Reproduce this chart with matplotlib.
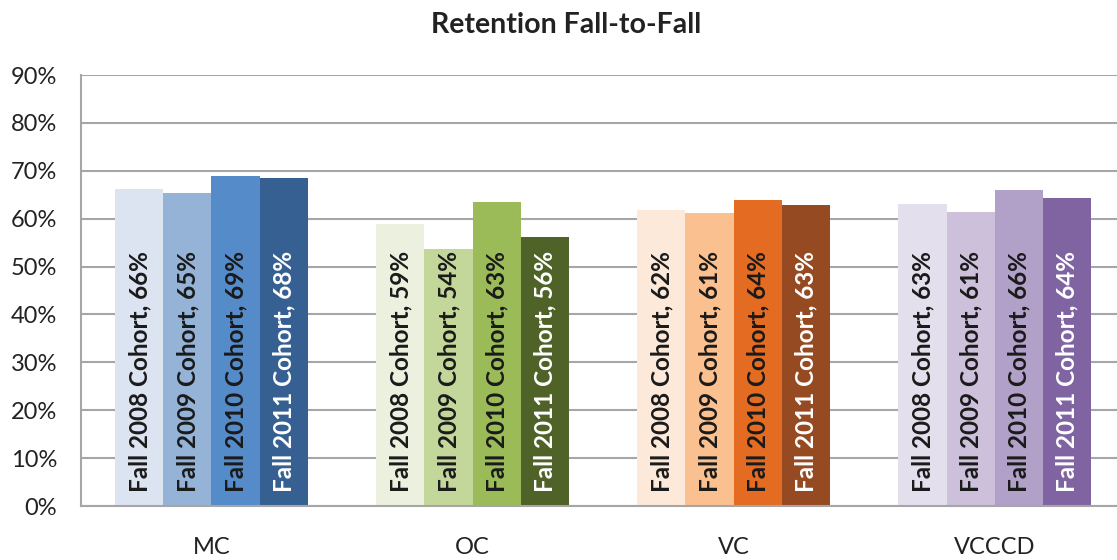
import numpy as np
import matplotlib.pyplot as plt

# Data
colleges = ["MC", "OC", "VC", "VCCCD"]
cohorts = ["Fall 2008 Cohort", "Fall 2009 Cohort", "Fall 2010 Cohort", "Fall 2011 Cohort"]
mc = [66.2, 65.3, 68.9, 68.5]
oc = [58.9, 53.7, 63.4, 56.2]
vc = [61.8, 61.2, 63.9, 62.8]
vcccd = [63.0, 61.4, 66.0, 64.3]
values = [mc, oc, vc, vcccd]
# labels as printed on the chart
labels = [[66, 65, 69, 68], [59, 54, 63, 56], [62, 61, 64, 63], [63, 61, 66, 64]]

palettes = [
    ["#DCE3F1", "#95B3D7", "#558BC9", "#366092"],
    ["#EBF1DE", "#C4D79B", "#9BBB59", "#4F6228"],
    ["#FDE9D9", "#FAC090", "#E46C22", "#964A22"],
    ["#E4DFEC", "#CCC0DA", "#B1A0C7", "#8064A2"],
]

plt.rcParams['font.family'] = ['Lato', 'DejaVu Sans']

fig = plt.figure(figsize=(11.17, 5.6), dpi=100)
ax = fig.add_axes([0.0725, 0.0964, 0.9347, 0.7696])

bar_w = 0.184
x = np.arange(len(colleges))
for i, (vals, cols) in enumerate(zip(values, palettes)):
    for j, v in enumerate(vals):
        xpos = x[i] + (j - 1.5) * bar_w
        ax.bar(xpos, v, width=bar_w, color=cols[j], zorder=2)
        txt_color = "white" if j == 3 else "#1a1a1a"
        ax.annotate(f"{cohorts[j]}, {labels[i][j]}%", (xpos, 0), xytext=(0, 10),
                    textcoords="offset points", rotation=90, ha="center", va="bottom",
                    fontsize=17.5, fontweight="bold", color=txt_color, zorder=3)

ax.set_xlim(-0.5, len(colleges) - 0.5)
ax.set_ylim(0, 90)
ax.set_yticks(np.arange(0, 91, 10))
ax.set_yticklabels([f"{t}%" for t in range(0, 91, 10)])
ax.set_xticks(x)
ax.set_xticklabels(colleges)
ax.tick_params(axis="both", length=0, labelsize=17, colors="#222222")
ax.tick_params(axis="x", pad=22)
ax.tick_params(axis="y", pad=17)
ax.yaxis.grid(True, color="#A6A6A6", linewidth=1.5, zorder=0)
ax.set_axisbelow(True)
for s in ["top", "right"]:
    ax.spines[s].set_visible(False)
for s in ["left", "bottom"]:
    ax.spines[s].set_color("#A6A6A6")
    ax.spines[s].set_linewidth(1.5)

fig.text(0.507, 0.955, "Retention Fall-to-Fall", ha="center", va="center",
         fontsize=20.5, fontweight="bold", color="#222222")

fig.savefig("out.png", dpi=100)
